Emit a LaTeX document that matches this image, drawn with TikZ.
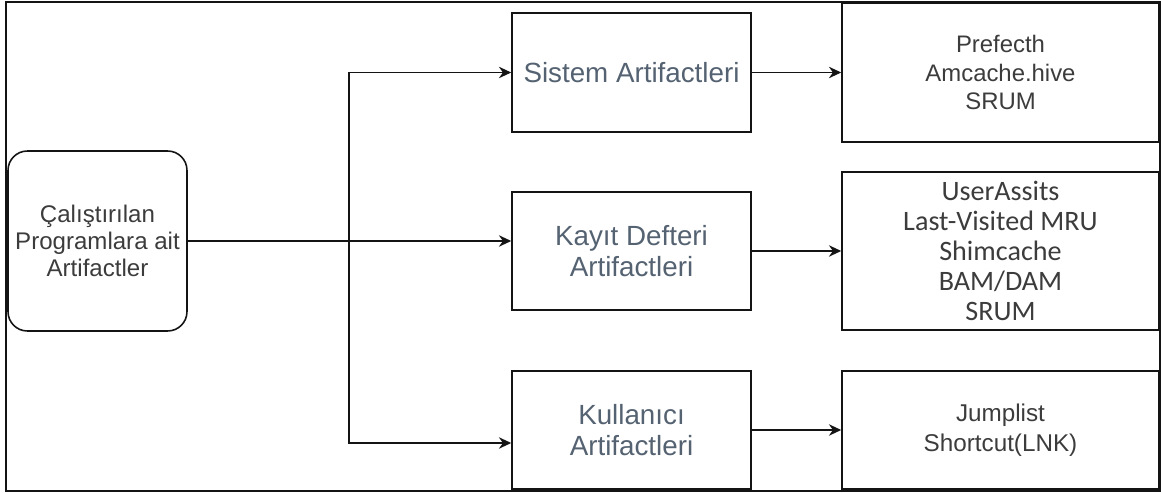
\documentclass[tikz,border=0pt]{standalone}
\usepackage{fontspec}
\setmainfont{Liberation Sans}
\newfontfamily\calibrifont{Carlito}
\usetikzlibrary{positioning,arrows.meta,calc}
\definecolor{afLine}{RGB}{20,20,20}
\definecolor{afSlate}{RGB}{84,98,113}
\definecolor{afGray}{RGB}{60,60,60}
\tikzset{
    base/.style={align=center, draw=afLine, line width=0.9pt, inner sep=0pt},
    source/.style={base, rectangle, rounded corners=11pt, text=afGray,
                   minimum width=3.58cm, minimum height=3.6cm,
                   font=\fontsize{13.7}{15.5}\selectfont},
    group/.style={base, rectangle, text=afSlate, minimum width=4.78cm,
                  minimum height=2.37cm, font=\fontsize{15.8}{17.6}\selectfont},
    itemlist/.style={base, rectangle, text=afGray, minimum width=6.34cm,
                     font=\fontsize{13.6}{16.4}\selectfont},
    flow/.style={-{Stealth[length=7pt,width=6.5pt]}, line width=0.9pt, color=afLine}
}

\begin{document}
\begin{tikzpicture}[x=0.02cm, y=-0.02cm]
  \useasboundingbox (0,0) rectangle (1161,493);
  % Outer frame
  \draw[afLine, line width=1.3pt] (6,2) rectangle (1160,491);

  % Source
  \node[source] (start) at (97.5,241) {Çalıştırılan\\Programlara ait\\Artifactler};

  % Artifact groups
  \node[group] (sys) at (631.5,72.5) {Sistem Artifactleri};
  \node[group] (reg) at (631.5,251) {Kayıt Defteri\\Artifactleri};
  \node[group] (usr) at (631.5,430) {Kullanıcı\\Artifactleri};

  % Artifact lists
  \node[itemlist, minimum height=2.78cm] (sysList) at (1000.5,72.5)
    {Prefecth\\Amcache.hive\\SRUM};
  \node[itemlist, minimum height=3.16cm,
        font=\calibrifont\fontsize{16}{17}\selectfont]
    (regList) at (1000.5,251)
    {UserAssits\\Last-Visited MRU\\Shimcache\\BAM/DAM\\SRUM};
  \node[itemlist, minimum height=2.36cm, font=\fontsize{13.8}{17}\selectfont]
    (usrList) at (1000.5,430) {Jumplist\\Shortcut(LNK)};

  % Branching
  \coordinate (split) at (349,241);
  \draw[flow] (start.east) -- (reg.west |- start.east);
  \draw[flow] (split) |- (sys.west);
  \draw[flow] (split) |- ([yshift=-7.4pt]usr.west);

  % Groups to lists
  \draw[flow] (sys.east) -- (sysList.west);
  \draw[flow] (reg.east) -- (regList.west);
  \draw[flow] (usr.east) -- (usrList.west);
\end{tikzpicture}
\end{document}
